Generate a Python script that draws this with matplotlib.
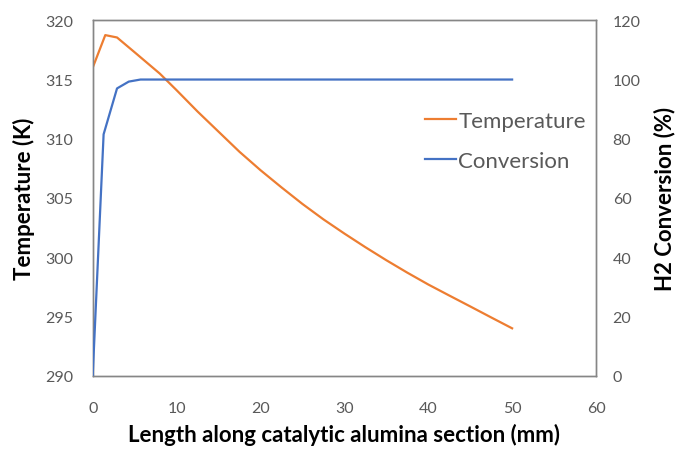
import matplotlib
matplotlib.use("Agg")
import matplotlib.pyplot as plt

# Temperature profile along the catalytic section
temp_x = [0, 1.5, 2.9, 5, 8, 10, 12.5, 15, 17.5, 20, 22.5, 25, 27.5, 30,
          32.5, 35, 37.5, 40, 42.5, 45, 47.5, 50]
temp_k = [316.0, 318.75, 318.55, 317.3, 315.5, 314.1, 312.3, 310.6, 308.9, 307.35,
          305.9, 304.5, 303.2, 302.0, 300.85, 299.75, 298.7, 297.7, 296.77, 295.85,
          294.92, 294.0]

# H2 conversion along the catalytic section
conv_x = [0, 1.3, 2.9, 4.3, 5.7, 10, 20, 30, 40, 50]
conv_pct = [0, 81.5, 97.0, 99.3, 100, 100, 100, 100, 100, 100]

x_ticks = [0, 10, 20, 30, 40, 50, 60]
t_ticks = [290, 295, 300, 305, 310, 315, 320]
c_ticks = [0, 20, 40, 60, 80, 100, 120]

plt.rcParams['font.family'] = ['Lato', 'DejaVu Sans']

ORANGE = '#ED7D31'
BLUE = '#4472C4'
TICK_GRAY = '#595959'
FRAME_GRAY = '#868686'

fig = plt.figure(figsize=(6.77, 4.52), dpi=100)
ax = fig.add_axes([92.7 / 677, 1 - 376.7 / 452, (596 - 92.7) / 677, (376.7 - 21.3) / 452])
ax2 = ax.twinx()

l_temp, = ax.plot(temp_x, temp_k, color=ORANGE, lw=1.6, label='Temperature', zorder=3)
l_conv, = ax2.plot(conv_x, conv_pct, color=BLUE, lw=1.6, label='Conversion', zorder=3)

ax.set_xlim(0, 60)
ax.set_ylim(290, 320)
ax2.set_ylim(0, 120)
ax.set_xticks(x_ticks)
ax.set_yticks(t_ticks)
ax2.set_yticks(c_ticks)

for a in (ax, ax2):
    for s in a.spines.values():
        s.set_color(FRAME_GRAY)
        s.set_linewidth(1.0)
    a.tick_params(length=0, labelsize=11.5, labelcolor=TICK_GRAY)
ax.tick_params(axis='y', pad=14)
ax.tick_params(axis='x', pad=18)
ax2.tick_params(axis='y', pad=12)

ax.set_xlabel('Length along catalytic alumina section (mm)', fontsize=16,
              fontweight='bold', labelpad=6)
ax.set_ylabel('Temperature (K)', fontsize=16, fontweight='bold', labelpad=7)
ax2.set_ylabel('H2 Conversion (%)', fontsize=16, fontweight='bold', labelpad=9)

fig.legend(handles=[l_temp, l_conv], loc='center left',
           bbox_to_anchor=(425 / 677, 1 - 142 / 452), frameon=False,
           fontsize=16, labelcolor=TICK_GRAY, handlelength=1.4,
           handletextpad=0.1, labelspacing=0.9, borderpad=0, borderaxespad=0)

fig.savefig('out.png', dpi=100)
